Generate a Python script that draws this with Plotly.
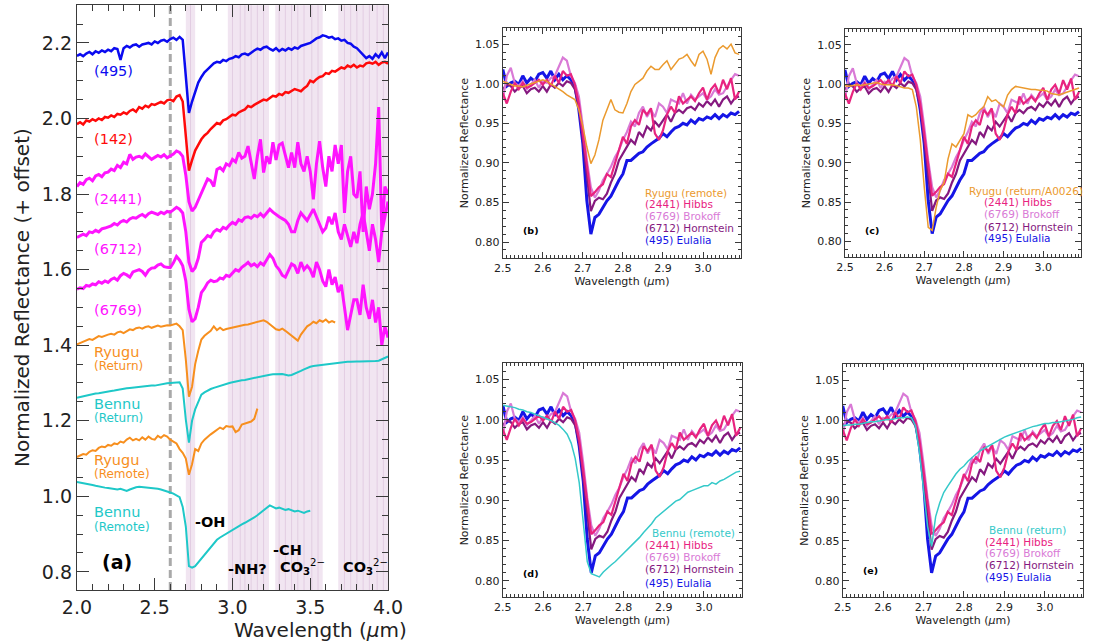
import numpy as np
import plotly.graph_objects as go

FONT = "DejaVu Sans"

# ---------------- panel (a): full 2-4 um spectra, offset ----------------
wl_a = np.round(np.linspace(2.0, 4.0, 101), 2)

eulalia_a = [
    2.166, 2.170, 2.165, 2.172, 2.176, 2.170, 2.178, 2.174, 2.180, 2.176,
    2.182, 2.178, 2.186, 2.184, 2.155, 2.186, 2.192, 2.188, 2.194, 2.196,
    2.190, 2.196, 2.198, 2.200, 2.196, 2.204, 2.200, 2.206, 2.208, 2.203,
    2.210, 2.214, 2.208, 2.216, 2.208, 2.120, 2.015, 2.045, 2.070, 2.095,
    2.110, 2.122, 2.130, 2.138, 2.146, 2.150, 2.148, 2.155, 2.152, 2.158,
    2.160, 2.165, 2.162, 2.170, 2.172, 2.168, 2.175, 2.180, 2.185, 2.182,
    2.188, 2.190, 2.184, 2.180, 2.186, 2.178, 2.184, 2.180, 2.186, 2.182,
    2.188, 2.185, 2.192, 2.195, 2.198, 2.200, 2.206, 2.212, 2.215, 2.220,
    2.218, 2.214, 2.216, 2.210, 2.212, 2.206, 2.208, 2.200, 2.198, 2.190,
    2.186, 2.178, 2.170, 2.160, 2.165, 2.158, 2.170, 2.162, 2.175, 2.160,
    2.175]

p142_a = [
    1.985, 1.990, 1.984, 1.995, 1.992, 1.998, 1.994, 2.000, 1.996, 2.004,
    2.002, 2.008, 2.004, 2.012, 2.010, 2.016, 2.012, 2.020, 2.024, 2.018,
    2.030, 2.026, 2.034, 2.030, 2.038, 2.036, 2.040, 2.044, 2.040, 2.048,
    2.050, 2.046, 2.058, 2.062, 2.045, 1.960, 1.862, 1.890, 1.915, 1.930,
    1.945, 1.955, 1.962, 1.972, 1.980, 1.988, 1.985, 1.995, 1.998, 2.004,
    2.010, 2.008, 2.016, 2.020, 2.024, 2.033, 2.030, 2.036, 2.040, 2.046,
    2.050, 2.048, 2.055, 2.060, 2.058, 2.065, 2.062, 2.070, 2.068, 2.074,
    2.078, 2.075, 2.072, 2.080, 2.086, 2.100, 2.096, 2.104, 2.110, 2.112,
    2.120, 2.118, 2.126, 2.124, 2.130, 2.135, 2.132, 2.140, 2.136, 2.142,
    2.135, 2.140, 2.138, 2.146, 2.148, 2.145, 2.150, 2.142, 2.148, 2.150,
    2.145]

hibbs_a = [
    1.820, 1.830, 1.826, 1.838, 1.842, 1.835, 1.848, 1.852, 1.846, 1.856,
    1.858, 1.866, 1.862, 1.876, 1.870, 1.884, 1.880, 1.905, 1.892, 1.898,
    1.900, 1.896, 1.906, 1.898, 1.892, 1.897, 1.902, 1.898, 1.904, 1.896,
    1.900, 1.906, 1.914, 1.910, 1.900, 1.850, 1.780, 1.755, 1.765, 1.785,
    1.805, 1.820, 1.840, 1.835, 1.820, 1.865, 1.870, 1.862, 1.880, 1.875,
    1.892, 1.885, 1.910, 1.895, 1.900, 1.927, 1.880, 1.840, 1.900, 1.945,
    1.857, 1.900, 1.880, 1.937, 1.890, 1.930, 1.935, 1.900, 1.870, 1.910,
    1.870, 1.937, 1.880, 1.860, 1.900, 1.860, 1.786, 1.880, 1.940, 1.870,
    1.820, 1.900, 1.860, 1.930, 1.880, 1.930, 1.750, 1.860, 1.900, 1.800,
    1.790, 1.860, 1.700, 1.820, 1.760, 1.800, 1.880, 2.030, 1.700, 1.820,
    1.800]

hornstein_a = [
    1.685, 1.690, 1.694, 1.690, 1.700, 1.698, 1.704, 1.700, 1.708, 1.710,
    1.712, 1.716, 1.722, 1.718, 1.726, 1.730, 1.726, 1.734, 1.738, 1.736,
    1.742, 1.746, 1.740, 1.748, 1.752, 1.750, 1.746, 1.752, 1.748, 1.754,
    1.752, 1.758, 1.765, 1.760, 1.750, 1.700, 1.620, 1.595, 1.605, 1.630,
    1.672, 1.680, 1.690, 1.686, 1.700, 1.706, 1.702, 1.712, 1.708, 1.718,
    1.725, 1.720, 1.732, 1.728, 1.738, 1.740, 1.736, 1.744, 1.740, 1.748,
    1.740, 1.750, 1.760, 1.752, 1.745, 1.740, 1.735, 1.730, 1.720, 1.700,
    1.700, 1.730, 1.750, 1.740, 1.730, 1.745, 1.760, 1.740, 1.720, 1.700,
    1.710, 1.740, 1.720, 1.750, 1.700, 1.680, 1.720, 1.690, 1.660, 1.700,
    1.670, 1.720, 1.750, 1.700, 1.650, 1.720, 1.680, 1.620, 1.700, 1.740,
    1.780]

brokoff_a = [
    1.548, 1.552, 1.550, 1.558, 1.556, 1.562, 1.560, 1.568, 1.564, 1.570,
    1.566, 1.574, 1.578, 1.572, 1.584, 1.590, 1.586, 1.580, 1.594, 1.598,
    1.600, 1.595, 1.585, 1.598, 1.604, 1.605, 1.612, 1.615, 1.608, 1.606,
    1.605, 1.618, 1.635, 1.625, 1.610, 1.570, 1.495, 1.462, 1.470, 1.500,
    1.539, 1.550, 1.565, 1.572, 1.568, 1.570, 1.578, 1.575, 1.585, 1.582,
    1.592, 1.600, 1.596, 1.606, 1.612, 1.619, 1.610, 1.615, 1.608, 1.618,
    1.612, 1.625, 1.640, 1.630, 1.610, 1.600, 1.585, 1.580, 1.600, 1.615,
    1.610, 1.590, 1.620, 1.600, 1.610, 1.600, 1.580, 1.620, 1.600, 1.570,
    1.555, 1.600, 1.560, 1.580, 1.540, 1.560, 1.500, 1.440, 1.480, 1.520,
    1.520, 1.480, 1.560, 1.500, 1.470, 1.520, 1.460, 1.500, 1.400, 1.450,
    1.420]

ryugu_ret_a = [
    1.402, 1.406, 1.410, 1.412, 1.416, 1.414, 1.420, 1.424, 1.422, 1.426,
    1.428, 1.430, 1.428, 1.434, 1.436, 1.432, 1.438, 1.442, 1.440, 1.445,
    1.447, 1.444, 1.448, 1.450, 1.446, 1.450, 1.452, 1.449, 1.451, 1.453,
    1.452, 1.455, 1.457, 1.450, 1.440, 1.362, 1.264, 1.290, 1.350, 1.385,
    1.415, 1.425, 1.432, 1.438, 1.450, 1.440, 1.446, 1.440, 1.443, 1.445,
    1.447, 1.448, 1.450, 1.452, 1.454, 1.455, 1.457, 1.459, 1.461, 1.462,
    1.466, 1.462, 1.455, 1.448, 1.442, 1.440, 1.444, 1.438, 1.432, 1.425,
    1.418, 1.412, 1.428, 1.440, 1.450, 1.455, 1.462, 1.458, 1.466, 1.462,
    1.468, 1.460, 1.464, 1.460, None, None, None, None, None, None,
    None, None, None, None, None, None, None, None, None, None,
    None]

bennu_ret_a = [
    1.261, 1.263, 1.265, 1.266, 1.268, 1.270, 1.272, 1.273, 1.275, 1.276,
    1.277, 1.279, 1.280, 1.282, 1.283, 1.284, 1.286, 1.287, 1.288, 1.289,
    1.290, 1.291, 1.291, 1.292, 1.293, 1.293, 1.295, 1.296, 1.298, 1.299,
    1.300, 1.301, 1.302, 1.302, 1.285, 1.203, 1.142, 1.200, 1.230, 1.252,
    1.269, 1.275, 1.280, 1.284, 1.287, 1.290, 1.293, 1.296, 1.298, 1.300,
    1.302, 1.304, 1.305, 1.307, 1.308, 1.310, 1.312, 1.314, 1.316, 1.318,
    1.320, 1.321, 1.322, 1.323, 1.324, 1.325, 1.324, 1.322, 1.320, 1.321,
    1.324, 1.328, 1.332, 1.336, 1.340, 1.343, 1.345, 1.346, 1.348, 1.349,
    1.350, 1.351, 1.352, 1.353, 1.354, 1.355, 1.356, 1.356, 1.356, 1.357,
    1.357, 1.357, 1.357, 1.358, 1.358, 1.358, 1.358, 1.359, 1.362, 1.365,
    1.370]

ryugu_rem_a = [
    1.104, 1.108, 1.112, 1.110, 1.118, 1.122, 1.120, 1.128, 1.132, 1.130,
    1.136, 1.134, 1.140, 1.138, 1.145, 1.142, 1.150, 1.155, 1.148, 1.152,
    1.148, 1.156, 1.150, 1.158, 1.152, 1.150, 1.160, 1.155, 1.162, 1.158,
    1.150, 1.145, 1.140, 1.125, 1.115, 1.100, 1.057, 1.085, 1.125, 1.120,
    1.140, 1.150, 1.158, 1.164, 1.170, 1.176, 1.182, 1.178, 1.186, 1.184,
    1.185, 1.170, 1.175, 1.190, 1.192, 1.195, 1.198, 1.205, 1.232, None,
    None, None, None, None, None, None, None, None, None, None,
    None, None, None, None, None, None, None, None, None, None,
    None, None, None, None, None, None, None, None, None, None,
    None, None, None, None, None, None, None, None, None, None,
    None]

bennu_rem_a = [
    1.038, 1.036, 1.034, 1.032, 1.030, 1.030, 1.028, 1.026, 1.024, 1.023,
    1.022, 1.020, 1.019, 1.018, 1.020, 1.016, 1.014, 1.018, 1.022, 1.024,
    1.025, 1.024, 1.024, 1.023, 1.022, 1.022, 1.020, 1.018, 1.016, 1.013,
    1.010, 1.007, 1.003, 0.998, 0.972, 0.920, 0.815, 0.811, 0.815, 0.825,
    0.836, 0.845, 0.858, 0.868, 0.877, 0.885, 0.891, 0.896, 0.903, 0.908,
    0.912, 0.918, 0.922, 0.926, 0.930, 0.934, 0.938, 0.944, 0.950, 0.956,
    0.962, 0.968, 0.976, 0.972, 0.968, 0.970, 0.966, 0.964, 0.966, 0.962,
    0.960, 0.962, 0.958, 0.956, 0.960, 0.962, None, None, None, None,
    None, None, None, None, None, None, None, None, None, None,
    None, None, None, None, None, None, None, None, None, None,
    None]

# absorption regions and the faint lines inside them
bands_a = [(2.70, 2.76), (2.97, 3.235), (3.275, 3.58), (3.68, 4.0)]
band_lines = [2.73, 3.00, 3.05, 3.08, 3.12, 3.16, 3.20, 3.30, 3.34, 3.38,
              3.42, 3.46, 3.51, 3.55, 3.72, 3.76, 3.80, 3.84, 3.88, 3.93, 3.97]

# ---------------- panels (b)-(e): 3-um band, normalized ----------------
wl_z = np.round(np.linspace(2.50, 3.09, 60), 2)

eulalia = [
    1.018, 0.997, 1.001, 1.003, 0.999, 1.010, 1.001, 1.007, 1.003, 1.012,
    1.014, 1.007, 1.016, 1.005, 1.012, 1.005, 1.010, 1.005, 0.997, 0.967,
    0.924, 0.852, 0.810, 0.831, 0.835, 0.844, 0.852, 0.858, 0.869, 0.878,
    0.886, 0.903, 0.903, 0.907, 0.912, 0.914, 0.920, 0.924, 0.927, 0.931,
    0.937, 0.933, 0.939, 0.944, 0.946, 0.950, 0.948, 0.954, 0.950, 0.956,
    0.954, 0.958, 0.956, 0.961, 0.956, 0.961, 0.958, 0.963, 0.961, 0.965]

hibbs = [
    0.988, 0.975, 0.990, 1.001, 0.993, 1.001, 0.995, 0.997, 1.001, 1.005,
    0.999, 1.005, 0.997, 1.010, 1.001, 1.016, 1.010, 1.012, 0.999, 0.975,
    0.937, 0.895, 0.858, 0.863, 0.869, 0.873, 0.886, 0.882, 0.899, 0.916,
    0.933, 0.924, 0.946, 0.954, 0.948, 0.967, 0.961, 0.969, 0.937, 0.929,
    0.941, 0.961, 0.971, 0.963, 0.984, 0.975, 0.980, 0.984, 0.978, 0.988,
    0.995, 0.980, 0.993, 0.999, 0.988, 1.005, 0.993, 1.007, 0.980, 0.990]

brokoff = [
    0.980, 1.010, 1.020, 1.001, 0.997, 1.003, 0.993, 0.999, 1.005, 0.995,
    1.003, 1.001, 1.007, 1.010, 1.022, 1.033, 1.029, 1.010, 1.001, 0.984,
    0.946, 0.903, 0.869, 0.856, 0.865, 0.878, 0.886, 0.895, 0.907, 0.916,
    0.929, 0.939, 0.952, 0.946, 0.963, 0.971, 0.958, 0.967, 0.958, 0.975,
    0.971, 0.963, 0.980, 0.978, 0.975, 0.988, 0.975, 0.986, 0.980, 0.984,
    0.988, 0.980, 0.984, 0.993, 0.986, 0.988, 0.997, 1.005, 1.012, 1.010]

hornstein = [
    0.993, 0.999, 0.997, 0.990, 0.995, 0.997, 0.988, 0.993, 0.995, 0.990,
    0.997, 0.990, 0.999, 0.995, 1.001, 0.997, 1.003, 1.001, 0.993, 0.971,
    0.929, 0.882, 0.839, 0.852, 0.856, 0.854, 0.861, 0.875, 0.886, 0.903,
    0.912, 0.920, 0.929, 0.924, 0.939, 0.933, 0.946, 0.941, 0.952, 0.946,
    0.954, 0.961, 0.952, 0.963, 0.967, 0.963, 0.969, 0.971, 0.967, 0.975,
    0.971, 0.978, 0.973, 0.980, 0.971, 0.980, 0.984, 0.975, 0.982, 0.984]

ryugu_remote = [
    1.003, 1.001, 0.999, 0.997, 0.997, 0.996, 0.998, 1.000, 1.001, 1.003,
    1.005, 1.003, 1.000, 0.997, 0.993, 0.990, 0.986, 0.983, 0.980, 0.967,
    0.946, 0.920, 0.899, 0.910, 0.929, 0.954, 0.967, 0.980, 0.967, 0.964,
    0.963, 0.975, 0.990, 0.999, 1.003, 1.007, 1.016, 1.022, 1.018, 1.018,
    1.024, 1.029, 1.018, 1.024, 1.031, 1.033, 1.037, 1.029, 1.022, 1.037,
    1.041, 1.031, 1.012, 1.033, 1.044, 1.048, 1.044, 1.050, 1.039, 1.037]

ryugu_return = [
    0.998, 0.997, 0.998, 0.999, 0.998, 0.999, 1.000, 1.001, 1.002, 1.000,
    0.999, 0.999, 0.999, 0.998, 0.996, 0.995, 0.995, 0.993, 0.971, 0.929,
    0.869, 0.818, 0.814, 0.843, 0.865, 0.875, 0.905, 0.924, 0.920, 0.929,
    0.937, 0.961, 0.958, 0.961, 0.967, 0.971, 0.984, 0.978, 0.980, 0.975,
    0.971, 0.986, 0.993, 0.997, 0.996, 0.995, 0.994, 0.993, 0.993, 0.992,
    0.992, 0.991, 0.988, 0.987, 0.986, 0.988, 0.990, 0.992, 0.993, 0.995]

bennu_remote = [
    1.018, 1.017, 1.016, 1.015, 1.013, 1.012, 1.010, 1.009, 1.007, 1.005,
    1.003, 1.001, 0.999, 0.996, 0.993, 0.988, 0.982, 0.971, 0.952, 0.922,
    0.875, 0.824, 0.809, 0.807, 0.805, 0.811, 0.816, 0.820, 0.824, 0.829,
    0.833, 0.839, 0.843, 0.848, 0.854, 0.860, 0.865, 0.871, 0.878, 0.882,
    0.886, 0.890, 0.895, 0.899, 0.901, 0.905, 0.910, 0.912, 0.914, 0.916,
    0.918, 0.918, 0.922, 0.920, 0.924, 0.926, 0.929, 0.931, 0.935, 0.936]

bennu_return = [
    0.993, 0.994, 0.994, 0.995, 0.995, 0.996, 0.997, 0.998, 0.998, 0.999,
    1.000, 1.001, 1.001, 1.002, 1.003, 1.003, 1.004, 1.003, 0.993, 0.960,
    0.914, 0.868, 0.843, 0.880, 0.897, 0.910, 0.918, 0.926, 0.933, 0.939,
    0.943, 0.949, 0.954, 0.958, 0.962, 0.965, 0.968, 0.971, 0.974, 0.977,
    0.979, 0.981, 0.983, 0.985, 0.987, 0.989, 0.991, 0.992, 0.993, 0.995,
    0.996, 0.996, 0.997, 0.997, 0.998, 0.999, 1.000, 1.001, 1.003, 1.004]

C_BLUE = "#0b0bf0"
C_RED = "#ff0a0a"
C_MAG = "#ff14ff"
C_ORANGE = "#f78f1e"
C_CYAN = "#1ec8c8"
C_HIBBS = "#e8237f"
C_BROKOFF = "#d97ad6"
C_HORN = "#85197f"
C_EUL = "#1515e6"
C_RYU = "#eb9a2e"
C_BEN = "#35c9c9"

fig = go.Figure()

# ---- panel (a) ----
for x0, x1 in bands_a:
    fig.add_shape(type="rect", xref="x", yref="y domain", x0=x0, x1=x1, y0=0, y1=1,
                  fillcolor="#f1e5f1", line_width=0, layer="below")
for xl in band_lines:
    fig.add_shape(type="line", xref="x", yref="y domain", x0=xl, x1=xl, y0=0, y1=1,
                  line=dict(color="#e2cde2", width=1), layer="below")
fig.add_shape(type="line", xref="x", yref="y domain", x0=2.6, x1=2.6, y0=0, y1=1,
              line=dict(color="#a9a9a9", width=3, dash="8px,4px"), layer="below")

series_a = [
    (eulalia_a, C_BLUE, 2.5),
    (p142_a, C_RED, 2.5),
    (hibbs_a, C_MAG, 3),
    (hornstein_a, C_MAG, 3),
    (brokoff_a, C_MAG, 3),
    (ryugu_ret_a, C_ORANGE, 2),
    (bennu_ret_a, C_CYAN, 2),
    (ryugu_rem_a, C_ORANGE, 2),
    (bennu_rem_a, C_CYAN, 2),
]
for vals, col, w in series_a:
    fig.add_trace(go.Scatter(x=wl_a, y=vals, mode="lines", line=dict(color=col, width=w),
                             xaxis="x", yaxis="y", showlegend=False, connectgaps=False))

labels_a = [
    ("(495)", 2.10, 2.126, C_BLUE, 14.5),
    ("(142)", 2.10, 1.945, C_RED, 14.5),
    ("(2441)", 2.10, 1.786, C_MAG, 14.5),
    ("(6712)", 2.10, 1.654, C_MAG, 14.5),
    ("(6769)", 2.10, 1.494, C_MAG, 14.5),
    ("Ryugu", 2.10, 1.382, C_ORANGE, 14.5),
    ("(Return)", 2.10, 1.346, C_ORANGE, 12),
    ("Bennu", 2.10, 1.244, C_CYAN, 14.5),
    ("(Return)", 2.10, 1.208, C_CYAN, 12),
    ("Ryugu", 2.10, 1.096, C_ORANGE, 14.5),
    ("(Remote)", 2.10, 1.060, C_ORANGE, 12),
    ("Bennu", 2.10, 0.958, C_CYAN, 14.5),
    ("(Remote)", 2.10, 0.920, C_CYAN, 12),
]
for txt, x, y, col, sz in labels_a:
    fig.add_annotation(text=txt, x=x, y=y, xref="x", yref="y", xanchor="left",
                       showarrow=False, font=dict(family=FONT, size=sz, color=col))

features_a = [
    ("<b>-OH</b>", 2.855, 0.932, "center", 14.5),
    ("<b>(a)</b>", 2.257, 0.827, "center", 19),
    ("<b>-NH?</b>", 3.097, 0.808, "center", 14.5),
    ("<b>-CH</b>", 3.354, 0.858, "center", 14.5),
    ("<b>CO<sub>3</sub></b><sup>2−</sup>", 3.29, 0.812, "left", 14.5),
    ("<b>CO<sub>3</sub></b><sup>2−</sup>", 3.70, 0.812, "left", 14.5),
]
for txt, x, y, anc, sz in features_a:
    fig.add_annotation(text=txt, x=x, y=y, xref="x", yref="y", xanchor=anc,
                       showarrow=False, font=dict(family=FONT, size=sz, color="black"))

# x title of panel (a), placed in the paper just under the tick labels
fig.add_annotation(text="Wavelength (<i>μ</i>m)", x=0.2125, y=1 - 630 / 643,
                   xref="paper", yref="paper", showarrow=False, yanchor="middle",
                   font=dict(family=FONT, size=20, color="#222"))

# ---- panels (b)-(e) ----
asteroids = [
    ("(2441) Hibbs", hibbs, C_HIBBS, 2.2),
    ("(6769) Brokoff", brokoff, C_BROKOFF, 2.2),
    ("(6712) Hornstein", hornstein, C_HORN, 2.2),
    ("(495) Eulalia", eulalia, C_EUL, 3),
]
panels = [
    ("2", "(b)", "Ryugu (remote)", ryugu_remote, C_RYU, 2.849, 2.849,
     [0.862, 0.848, 0.833, 0.818, 0.802], 0.814),
    ("3", "(c)", "Ryugu (return/A0026)", ryugu_return, C_RYU, 2.808, 2.846,
     [0.864, 0.850, 0.835, 0.819, 0.805], 0.814),
    ("4", "(d)", "Bennu (remote)", bennu_remote, C_BEN, 2.867, 2.849,
     [0.860, 0.844, 0.830, 0.815, 0.798], 0.809),
    ("5", "(e)", "Bennu (return)", bennu_return, C_BEN, 2.856, 2.848,
     [0.864, 0.849, 0.835, 0.820, 0.805], 0.813),
]
draw_order = [3, 2, 1, 0]
for n, tag, cname, cvals, ccol, cx, ax_x, rows, tag_y in panels:
    for i in draw_order:
        name, vals, col, w = asteroids[i]
        fig.add_trace(go.Scatter(x=wl_z, y=vals, mode="lines", line=dict(color=col, width=w),
                                 xaxis="x" + n, yaxis="y" + n, showlegend=False))
    fig.add_trace(go.Scatter(x=wl_z, y=cvals, mode="lines", line=dict(color=ccol, width=1.5),
                             xaxis="x" + n, yaxis="y" + n, showlegend=False))
    fig.add_annotation(text=cname, x=cx, y=rows[0], xref="x" + n, yref="y" + n,
                       xanchor="left", showarrow=False,
                       font=dict(family=FONT, size=10.5, color=ccol))
    for (name, vals, col, w), yy in zip(asteroids, rows[1:]):
        fig.add_annotation(text=name, x=ax_x, y=yy, xref="x" + n, yref="y" + n,
                           xanchor="left", showarrow=False,
                           font=dict(family=FONT, size=10.5, color=col))
    fig.add_annotation(text="<b>" + tag + "</b>", x=2.568, y=tag_y, xref="x" + n,
                       yref="y" + n, showarrow=False,
                       font=dict(family=FONT, size=9.5, color="black"))

AX_COL = "#3a3a3a"


def big_x(domain):
    return dict(domain=domain, anchor="y", range=[2.0, 4.0], tick0=2.0, dtick=0.5,
                tickformat=".1f", ticks="inside", ticklen=12, tickwidth=1.2, tickcolor=AX_COL,
                minor=dict(dtick=0.1, ticklen=6, ticks="inside", tickcolor=AX_COL, tickwidth=1.2),
                showline=True, linewidth=1.2, linecolor=AX_COL, mirror="ticks",
                showgrid=False, zeroline=False, automargin=False,
                tickfont=dict(family=FONT, size=19, color="#222"))


def big_y(domain):
    return dict(domain=domain, anchor="x", range=[0.752, 2.30], tick0=0.8, dtick=0.2,
                tickformat=".1f", ticks="inside", ticklen=12, tickwidth=1.2, tickcolor=AX_COL,
                minor=dict(dtick=0.05, ticklen=6, ticks="inside", tickcolor=AX_COL, tickwidth=1.2),
                showline=True, linewidth=1.2, linecolor=AX_COL, mirror="ticks",
                showgrid=False, zeroline=False, automargin=False,
                tickfont=dict(family=FONT, size=19, color="#222"),
                title=dict(text="Normalized Reflectance (+ offset)", standoff=6,
                           font=dict(family=FONT, size=20, color="#222")))


def small_x(domain, n):
    return dict(domain=domain, anchor="y" + n, range=[2.5, 3.095], tick0=2.5, dtick=0.1,
                tickformat=".1f", ticks="inside", ticklen=6, tickcolor=AX_COL,
                minor=dict(dtick=0.01, ticklen=3, ticks="inside", tickcolor=AX_COL),
                showline=True, linewidth=1, linecolor=AX_COL, mirror="ticks",
                showgrid=False, zeroline=False, automargin=False,
                tickfont=dict(family=FONT, size=11, color="#222"),
                title=dict(text="Wavelength (<i>μ</i>m)", standoff=0,
                           font=dict(family=FONT, size=11, color="#222")))


def small_y(domain, n):
    return dict(domain=domain, anchor="x" + n, range=[0.78, 1.07], tick0=0.8, dtick=0.05,
                tickformat=".2f", ticks="inside", ticklen=6, tickcolor=AX_COL,
                minor=dict(dtick=0.01, ticklen=3, ticks="inside", tickcolor=AX_COL),
                showline=True, linewidth=1, linecolor=AX_COL, mirror="ticks",
                showgrid=False, zeroline=False, automargin=False,
                tickfont=dict(family=FONT, size=11, color="#222"),
                title=dict(text="Normalized Reflectance", standoff=4,
                           font=dict(family=FONT, size=11, color="#222")))


fig.update_layout(
    width=1093, height=643,
    margin=dict(l=0, r=0, t=0, b=0, autoexpand=False),
    paper_bgcolor="white", plot_bgcolor="white",
    showlegend=False,
    xaxis=big_x([0.0704, 0.355]),
    yaxis=big_y([0.0824, 0.992]),
    xaxis2=small_x([0.460, 0.678], "2"),
    yaxis2=small_y([0.599, 0.956], "2"),
    xaxis3=small_x([0.773, 0.989], "3"),
    yaxis3=small_y([0.600, 0.955], "3"),
    xaxis4=small_x([0.460, 0.679], "4"),
    yaxis4=small_y([0.0715, 0.435], "4"),
    xaxis5=small_x([0.771, 0.991], "5"),
    yaxis5=small_y([0.0715, 0.434], "5"),
)

# drop the browser's default page margin so the figure sits at the top-left corner
fig.write_html("out.html", config={"displayModeBar": False},
               post_script="document.body.style.margin='0px';")
